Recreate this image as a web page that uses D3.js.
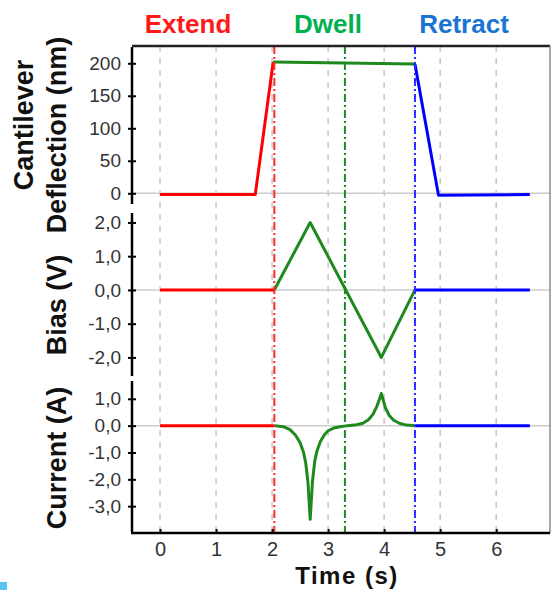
<!DOCTYPE html>
<html lang="en">
<head>
    <meta charset="UTF-8">
    <title>Extend / Dwell / Retract</title>
    <script src="https://d3js.org/d3.v7.min.js"></script>
    <style>
        body {
            margin: 0;
            background-color: #fff;
            font-family: 'Liberation Sans', Arial, sans-serif;
        }
        svg {
            display: block;
        }
        .phase-title {
            font-size: 26px;
            font-weight: bold;
            text-anchor: middle;
        }
        .y-title, .x-title {
            font-size: 27px;
            font-weight: bold;
            fill: #111;
            text-anchor: middle;
        }
        .x-title {
            font-size: 24px;
        }
        .tick text {
            fill: #333;
        }
        .grid {
            stroke: #c8c8c8;
            stroke-width: 1.5;
            stroke-dasharray: 6, 6;
        }
        .zero {
            stroke: #cccccc;
            stroke-width: 1.5;
        }
        .trace {
            fill: none;
            stroke-width: 3;
            stroke-linejoin: round;
        }
        .phase-line {
            stroke-width: 2;
            stroke-dasharray: 8, 3, 2, 3;
        }
    </style>
</head>
<body>
    <svg width="552" height="590"></svg>

    <script>
        // phases
        const phases = ["Extend", "Dwell", "Retract"];
        const phaseColors = ["#ff1a1a", "#00b04f", "#1a74d2"];
        const traceColors = ["#ff0000", "#1e8a1e", "#0000ff"];
        const phaseMarks = [2.04, 3.30, 4.55];

        const timeTicks = [0, 1, 2, 3, 4, 5, 6];

        // cantilever deflection (nm)
        const deflExtendT = [0, 1.70, 2.02];
        const deflExtend = [-2, -2, 202];
        const deflDwellT = [2.02, 4.55];
        const deflDwell = [202, 199];
        const deflRetractT = [4.55, 4.97, 6.60];
        const deflRetract = [199, -3, -2];
        const deflTicks = [0, 50, 100, 150, 200];

        // bias (V)
        const biasExtendT = [0, 2.04];
        const biasExtend = [0, 0];
        const biasDwellT = [2.04, 2.68, 3.95, 4.55];
        const biasDwell = [0, 2.0, -2.0, 0];
        const biasRetractT = [4.55, 6.60];
        const biasRetract = [0, 0];
        const biasTicks = [-2, -1, 0, 1, 2];

        // current (A)
        const curExtendT = [0, 2.04];
        const curExtend = [0, 0];
        const curDwellT = [2.04, 2.20, 2.32, 2.42, 2.50, 2.56, 2.60, 2.64, 2.68, 2.72, 2.76, 2.80, 2.86, 2.93, 3.00, 3.10, 3.21, 3.35, 3.51, 3.62, 3.72, 3.80, 3.87, 3.92, 3.95, 3.98, 4.02, 4.09, 4.17, 4.28, 4.40, 4.55];
        const curDwell = [0, -0.04, -0.15, -0.36, -0.64, -0.98, -1.38, -2.1, -3.49, -2.1, -1.35, -0.95, -0.6, -0.35, -0.19, -0.09, -0.04, 0.0, 0.03, 0.09, 0.22, 0.42, 0.72, 1.0, 1.2, 0.98, 0.68, 0.38, 0.2, 0.08, 0.02, 0];
        const curRetractT = [4.55, 6.60];
        const curRetract = [0, 0];
        const curTicks = [-3, -2, -1, 0, 1];

        const svg = d3.select("svg");
        const plotLeft = 132, plotRight = 550, plotTop = 46, plotBottom = 533;

        const x = d3.scaleLinear().domain([-0.5, 6.96]).range([plotLeft, plotRight]);

        const locale = d3.formatLocale({decimal: ",", thousands: ".", grouping: [3], currency: ["", ""], minus: "-"});
        const fmt1 = locale.format(".1f");

        const panels = [
            {
                y: d3.scaleLinear().domain([-18, 226.6]).range([205, plotTop]),
                ticks: deflTicks, fmt: d3.format("d"),
                series: [[deflExtendT, deflExtend], [deflDwellT, deflDwell], [deflRetractT, deflRetract]]
            },
            {
                y: d3.scaleLinear().domain([-2.58, 2.31]).range([377, 212]),
                ticks: biasTicks, fmt: fmt1,
                series: [[biasExtendT, biasExtend], [biasDwellT, biasDwell], [biasRetractT, biasRetract]]
            },
            {
                y: d3.scaleLinear().domain([-4, 1.7]).range([plotBottom, 380]),
                ticks: curTicks, fmt: fmt1,
                series: [[curExtendT, curExtend], [curDwellT, curDwell], [curRetractT, curRetract]]
            }
        ];

        // vertical grid
        svg.append("g").selectAll("line")
            .data(timeTicks)
            .join("line")
            .attr("class", "grid")
            .attr("x1", d => x(d)).attr("x2", d => x(d))
            .attr("y1", plotTop).attr("y2", plotBottom);

        // zero lines
        panels.forEach(p => {
            svg.append("line")
                .attr("class", "zero")
                .attr("x1", plotLeft).attr("x2", plotRight)
                .attr("y1", p.y(0)).attr("y2", p.y(0));
        });

        // traces
        panels.forEach(p => {
            const g = svg.append("g");
            p.series.forEach(([ts, vs], i) => {
                const pts = ts.map((t, k) => [t, vs[k]]);
                g.append("path")
                    .attr("class", "trace")
                    .attr("stroke", traceColors[i])
                    .attr("d", d3.line().x(d => x(d[0])).y(d => p.y(d[1]))(pts));
            });
        });

        // phase boundaries
        svg.append("g").selectAll("line")
            .data(phaseMarks)
            .join("line")
            .attr("class", "phase-line")
            .attr("stroke", (d, i) => ["#ff2a2a", "#1e8a1e", "#2a2aff"][i])
            .attr("x1", d => x(d)).attr("x2", d => x(d))
            .attr("y1", plotTop).attr("y2", plotBottom);

        // frame
        svg.append("line")
            .attr("x1", plotLeft).attr("x2", plotRight).attr("y1", plotTop).attr("y2", plotTop)
            .attr("stroke", "#222").attr("stroke-width", 2.5);
        svg.append("line")
            .attr("x1", plotRight).attr("x2", plotRight).attr("y1", plotTop).attr("y2", plotBottom)
            .attr("stroke", "#8a8a8a").attr("stroke-width", 1.5);

        // y axes
        panels.forEach(p => {
            const ax = svg.append("g")
                .attr("transform", `translate(${plotLeft},0)`)
                .call(d3.axisLeft(p.y).tickValues(p.ticks).tickFormat(p.fmt).tickSize(4).tickPadding(7));
            ax.select(".domain").attr("stroke", "#000").attr("stroke-width", 2.5)
                .attr("d", `M0,${p.y.range()[0] - 1}V${p.y.range()[1] + 1}`);
            ax.selectAll(".tick line").attr("x1", 4).attr("x2", -4).attr("stroke-width", 2);
            ax.selectAll(".tick text")
                .attr("font-family", "'Liberation Sans', Arial, sans-serif")
                .attr("font-size", 19);
        });

        // x axis
        const xAxis = svg.append("g")
            .attr("transform", `translate(0,${plotBottom})`)
            .call(d3.axisBottom(x).tickValues(timeTicks).tickFormat(d3.format("d")).tickSize(-4).tickPadding(9));
        xAxis.select(".domain").attr("stroke", "#000").attr("stroke-width", 2.5)
            .attr("d", `M${plotLeft - 1},0H${plotRight}`);
        xAxis.selectAll(".tick line").attr("stroke-width", 2);
        xAxis.selectAll(".tick text")
            .attr("font-family", "'Liberation Sans', Arial, sans-serif")
            .attr("font-size", 20);

        // phase titles
        svg.append("g").selectAll("text")
            .data(phases)
            .join("text")
            .attr("class", "phase-title")
            .attr("x", (d, i) => [188, 328, 464][i])
            .attr("y", 33)
            .attr("fill", (d, i) => phaseColors[i])
            .text(d => d);

        // axis titles
        const yTitles = [
            {text: "Cantilever", x: 33, y: 125},
            {text: "Deflection (nm)", x: 66, y: 135},
            {text: "Bias (V)", x: 66, y: 305},
            {text: "Current (A)", x: 66, y: 458}
        ];
        yTitles.forEach(t => {
            svg.append("text")
                .attr("class", "y-title")
                .attr("transform", `translate(${t.x},${t.y}) rotate(-90)`)
                .text(t.text);
        });

        svg.append("text")
            .attr("class", "x-title")
            .attr("x", 347)
            .attr("y", 584)
            .attr("letter-spacing", 1.5)
            .text("Time (s)");

        svg.append("rect")
            .attr("x", 0).attr("y", 582).attr("width", 7).attr("height", 8)
            .attr("fill", "#5cc4f2");
    </script>
</body>
</html>
